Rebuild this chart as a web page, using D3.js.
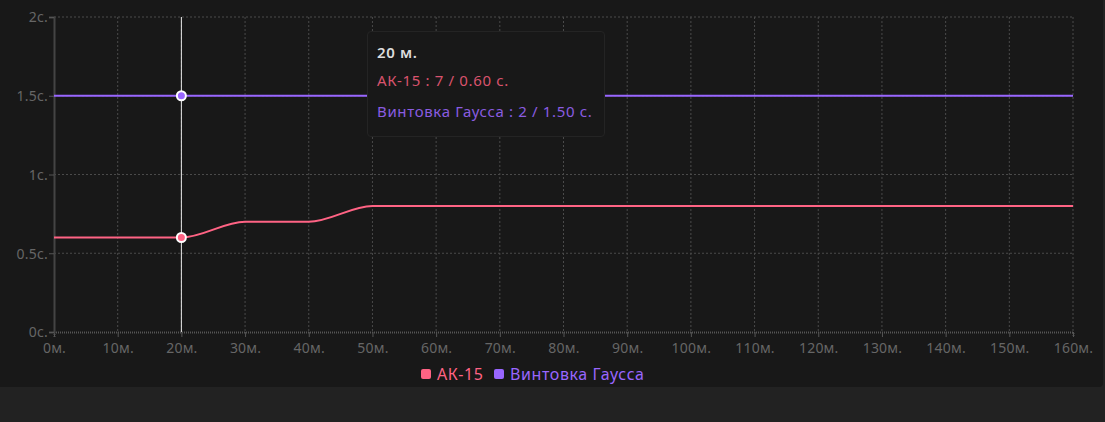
<!DOCTYPE html>
<html>
<head>
<meta charset="utf-8">
<script src="https://cdn.jsdelivr.net/npm/d3@7"></script>
<style>
    html, body { margin: 0; padding: 0; background: #222222; }
    #panel { position: absolute; left: 0; top: 0; width: 1103px; height: 387px; background: #181818; border-radius: 0 0 4px 0; }
    svg { display: block; font-family: "Noto Sans", sans-serif; }
    .tip { position: absolute; left: 367px; top: 31px; width: 238px; height: 106px; box-sizing: border-box;
           background: #181818; border: 1px solid #242424; border-radius: 4px; font-family: "Noto Sans", sans-serif; }
    .tip div { position: absolute; left: 9px; white-space: nowrap; font-size: 15px; letter-spacing: 0.65px; }
</style>
</head>
<body>
<div id="panel"></div>
<div id="chart"></div>
<script>
// chart data
const distances = [0, 10, 20, 30, 40, 50, 60, 70, 80, 90, 100, 110, 120, 130, 140, 150, 160];
const ak15Times = [0.6, 0.6, 0.6, 0.7, 0.7, 0.8, 0.8, 0.8, 0.8, 0.8, 0.8, 0.8, 0.8, 0.8, 0.8, 0.8, 0.8];
const gaussTimes = [1.5, 1.5, 1.5, 1.5, 1.5, 1.5, 1.5, 1.5, 1.5, 1.5, 1.5, 1.5, 1.5, 1.5, 1.5, 1.5, 1.5];
const ak15Shots = 7;
const gaussShots = 2;
const yTicks = [0, 0.5, 1, 1.5, 2];
const seriesNames = ["АК-15", "Винтовка Гаусса"];
const hoverDistance = 20;

const colors = ["#ff6384", "#9966ff"];

let width = 1105;
let height = 422;
let margin = {left: 54, right: 32, top: 17, bottom: 90};

const svg = d3.select("#chart").append("svg")
    .attr("width", width)
    .attr("height", height)
    .style("position", "absolute")
    .style("left", 0)
    .style("top", 0);

let x = d3.scaleLinear().domain([0, 160]).range([margin.left, width - margin.right]);
let y = d3.scaleLinear().domain([0, 2]).range([height - margin.bottom, margin.top]);

// grid
svg.append("g").selectAll("line")
    .data(distances.slice(1))
    .join("line")
    .attr("x1", d => x(d)).attr("x2", d => x(d))
    .attr("y1", y(2)).attr("y2", y(0))
    .attr("stroke", "#4a4a4a")
    .attr("stroke-dasharray", "2,2");

svg.append("g").selectAll("line")
    .data(yTicks.slice(1))
    .join("line")
    .attr("x1", x(0)).attr("x2", x(160))
    .attr("y1", d => y(d)).attr("y2", d => y(d))
    .attr("stroke", "#4a4a4a")
    .attr("stroke-dasharray", "2,2");

// axes
const xAxis = svg.append("g")
    .attr("transform", `translate(0,${y(0)})`)
    .call(d3.axisBottom(x).tickValues(distances).tickSize(5).tickFormat(d => d + "м."));
xAxis.select(".domain").attr("stroke", "#555").attr("stroke-dasharray", "1,1").attr("stroke-width", 2);

const yAxis = svg.append("g")
    .attr("transform", `translate(${x(0)},0)`)
    .call(d3.axisLeft(y).tickValues(yTicks).tickSize(5).tickFormat(d => d + "с."));
yAxis.select(".domain").attr("stroke", "#444").attr("stroke-width", 2);

svg.selectAll(".tick line").attr("stroke", "#555");
svg.selectAll(".tick text")
    .attr("fill", "#666")
    .style("font-size", "14px")
    .style("letter-spacing", "0.2px")
    .style("font-family", "'Noto Sans', sans-serif");
xAxis.selectAll(".tick text").attr("dy", "0.9em");
yAxis.selectAll(".tick text").attr("x", -6).attr("dy", "0.35em");

// lines
let line = d3.line()
    .x(d => x(d[0]))
    .y(d => y(d[1]))
    .curve(d3.curveMonotoneX);

const series = [ak15Times, gaussTimes].map(vals => distances.map((d, i) => [d, vals[i]]));

svg.append("g").selectAll("path")
    .data(series)
    .join("path")
    .attr("d", line)
    .attr("fill", "none")
    .attr("stroke", (_, i) => colors[i])
    .attr("stroke-width", 2);

// hover crosshair
const hi = distances.indexOf(hoverDistance);
svg.append("line")
    .attr("x1", x(hoverDistance)).attr("x2", x(hoverDistance))
    .attr("y1", y(2)).attr("y2", y(0))
    .attr("stroke", "#e8e8e8")
    .attr("stroke-width", 1);

svg.append("g").selectAll("circle")
    .data([ak15Times[hi], gaussTimes[hi]])
    .join("circle")
    .attr("cx", x(hoverDistance))
    .attr("cy", d => y(d))
    .attr("r", 4.5)
    .attr("fill", (_, i) => colors[i])
    .attr("stroke", "#ffffff")
    .attr("stroke-width", 2);

// legend
const legend = svg.append("g").attr("transform", `translate(0,${374})`);
const legendX = [421, 494];
seriesNames.forEach((name, i) => {
    legend.append("rect")
        .attr("x", legendX[i]).attr("y", -5)
        .attr("width", 10).attr("height", 10)
        .attr("rx", 2)
        .attr("fill", colors[i]);
    legend.append("text")
        .attr("x", legendX[i] + 16).attr("y", 0)
        .attr("dy", "0.35em")
        .attr("fill", colors[i])
        .style("font-size", "16px")
        .style("letter-spacing", "0.6px")
        .text(name);
});

// tooltip
const tip = d3.select("body").append("div").attr("class", "tip");
tip.append("div").style("top", "10px").style("color", "#dddddd").style("font-weight", "600")
    .text(hoverDistance + " м.");
tip.append("div").style("top", "38px").style("color", "#d9536d")
    .text(`${seriesNames[0]} : ${ak15Shots} / ${ak15Times[hi].toFixed(2)} с.`);
tip.append("div").style("top", "69px").style("color", "#8a5ce0")
    .text(`${seriesNames[1]} : ${gaussShots} / ${gaussTimes[hi].toFixed(2)} с.`);
</script>
</body>
</html>
